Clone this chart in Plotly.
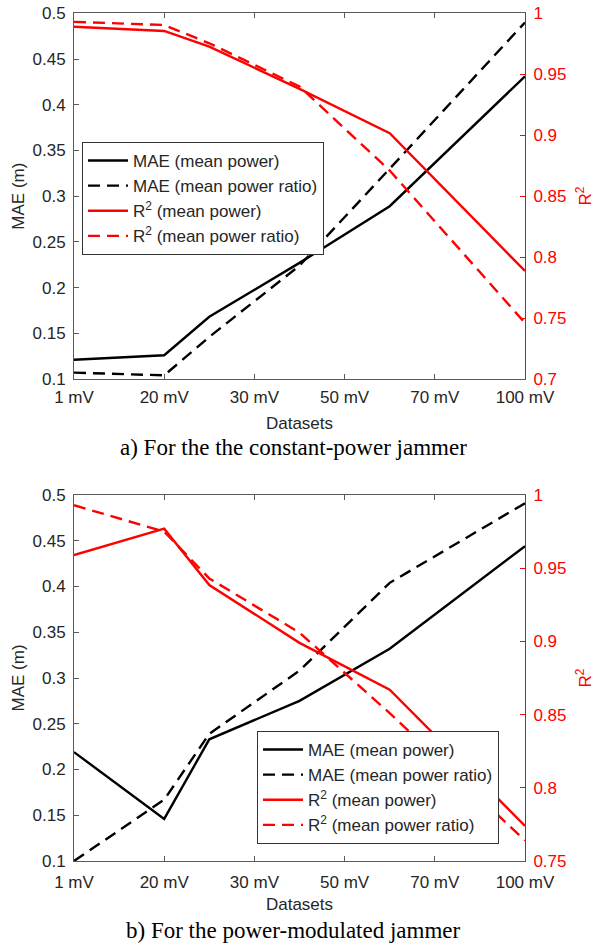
import plotly.graph_objects as go

# ---- data ----
x_mv = [0, 20, 30, 50, 70, 100]
tick_vals = [0, 20, 40, 60, 80, 100]
tick_text = ["1 mV", "20 mV", "30 mV", "50 mV", "70 mV", "100 mV"]

# a) constant-power jammer
mae_mp_a = [0.121, 0.126, 0.168, 0.227, 0.289, 0.431]
mae_mpr_a = [0.107, 0.104, 0.146, 0.224, 0.330, 0.490]
r2_mp_a = [0.989, 0.9855, 0.9726, 0.938, 0.9016, 0.7886]
r2_mpr_a = [0.993, 0.9904, 0.9754, 0.940, 0.871, 0.746]

# b) power-modulated jammer
mae_mp_b = [0.219, 0.146, 0.233, 0.275, 0.332, 0.444]
mae_mpr_b = [0.100, 0.167, 0.239, 0.308, 0.404, 0.491]
r2_mp_b = [0.959, 0.977, 0.9385, 0.899, 0.867, 0.774]
r2_mpr_b = [0.993, 0.975, 0.943, 0.906, 0.851, 0.764]

names = ["MAE (mean power)", "MAE (mean power ratio)",
         "R<sup>2</sup> (mean power)", "R<sup>2</sup> (mean power ratio)"]

W, H = 596, 943
SANS = "Liberation Sans, Arial, Helvetica, sans-serif"
SERIF = "Liberation Serif, Times New Roman, serif"
FS = 17
DASH = "12px,7px"
LW = 2.4

fig = go.Figure()

def add_set(xa, ya_l, ya_r, mae_mp, mae_mpr, r2_mp, r2_mpr, leg):
    fig.add_trace(go.Scatter(x=x_mv, y=mae_mp, mode="lines", name=names[0],
                             line=dict(color="black", width=LW), xaxis=xa, yaxis=ya_l, legend=leg))
    fig.add_trace(go.Scatter(x=x_mv, y=mae_mpr, mode="lines", name=names[1],
                             line=dict(color="black", width=LW, dash=DASH), xaxis=xa, yaxis=ya_l, legend=leg))
    fig.add_trace(go.Scatter(x=x_mv, y=r2_mp, mode="lines", name=names[2],
                             line=dict(color="red", width=LW), xaxis=xa, yaxis=ya_r, legend=leg))
    fig.add_trace(go.Scatter(x=x_mv, y=r2_mpr, mode="lines", name=names[3],
                             line=dict(color="red", width=LW, dash=DASH), xaxis=xa, yaxis=ya_r, legend=leg))

add_set("x", "y", "y2", mae_mp_a, mae_mpr_a, r2_mp_a, r2_mpr_a, "legend")
add_set("x2", "y3", "y4", mae_mp_b, mae_mpr_b, r2_mp_b, r2_mpr_b, "legend2")

xdom = [74 / W, 525 / W]
top_dom = [1 - 379 / H, 1 - 13.3 / H]
bot_dom = [1 - 861 / H, 1 - 495 / H]

axcol = "#5a5a5a"
tickfont = dict(family=SANS, size=FS, color="#262626")
redfont = dict(family=SANS, size=FS, color="red")

def xaxis(anchor, tl_stand, t_stand):
    return dict(domain=xdom, anchor=anchor, range=[0, 100], tickvals=tick_vals, ticktext=tick_text,
                showline=True, linecolor=axcol, linewidth=1, mirror="ticks", ticks="inside",
                ticklen=5, tickcolor=axcol, tickfont=tickfont, showgrid=False, zeroline=False,
                automargin=False, ticklabelstandoff=tl_stand,
                title=dict(text="Datasets", font=dict(family=SANS, size=FS, color="#262626"), standoff=t_stand))

def yleft(anchor, dom, rng, dt):
    return dict(domain=dom, anchor=anchor, range=rng, dtick=dt, showline=True, linecolor=axcol, linewidth=1,
                ticks="inside", ticklen=5, tickcolor=axcol, tickfont=tickfont, showgrid=False, zeroline=False,
                automargin=False, ticklabelstandoff=4,
                title=dict(text="MAE (m)", font=dict(family=SANS, size=FS, color="#262626"), standoff=3))

def yright(anchor, overlay, rng, dt):
    return dict(overlaying=overlay, anchor=anchor, side="right", range=rng, dtick=dt, showline=True,
                linecolor="red", linewidth=1, ticks="inside", ticklen=5, tickcolor="red", tickfont=redfont,
                showgrid=False, zeroline=False, automargin=False, ticklabelstandoff=4,
                title=dict(text="R<sup>2</sup>", font=dict(family=SANS, size=FS, color="red"), standoff=13))

leg_common = dict(bgcolor="white", bordercolor="#333333", borderwidth=1, xanchor="left", yanchor="top",
                  font=dict(family=SANS, size=FS, color="#262626"), itemwidth=40, tracegroupgap=0)

fig.update_layout(
    width=W, height=H, margin=dict(l=0, r=0, t=0, b=0, autoexpand=False), autosize=False,
    paper_bgcolor="white", plot_bgcolor="white",
    xaxis=xaxis("y", 3, 10), xaxis2=xaxis("y3", 6, 6),
    yaxis=yleft("x", top_dom, [0.1, 0.5], 0.05),
    yaxis3=yleft("x2", bot_dom, [0.1, 0.5], 0.05),
    yaxis2=yright("x", "y", [0.7, 1.0], 0.05),
    yaxis4=yright("x2", "y3", [0.75, 1.0], 0.05),
    legend=dict(x=82 / W, y=1 - 142 / H, **leg_common),
    legend2=dict(x=257 / W, y=1 - 731 / H, **leg_common),
    showlegend=True,
    annotations=[
        dict(text="a) For the the constant-power jammer", x=293 / W, y=1 - 447 / H, xref="paper", yref="paper",
             showarrow=False, xanchor="center", yanchor="middle", font=dict(family=SERIF, size=23, color="black")),
        dict(text="b) For the power-modulated jammer", x=293 / W, y=1 - 930 / H, xref="paper", yref="paper",
             showarrow=False, xanchor="center", yanchor="middle", font=dict(family=SERIF, size=23, color="black")),
    ],
)

fig.write_html("out.html")
